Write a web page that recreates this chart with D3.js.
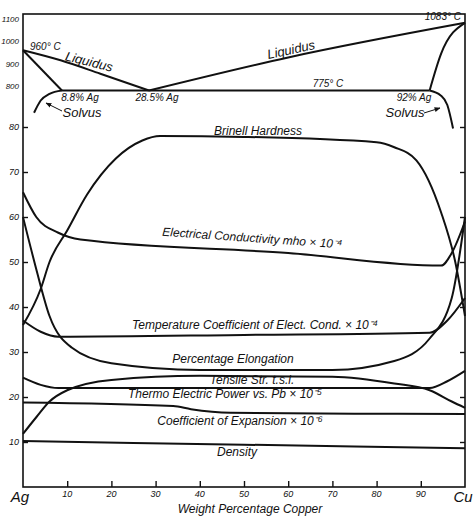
<!DOCTYPE html>
<html><head><meta charset="utf-8">
<script src="https://cdn.jsdelivr.net/npm/d3@7"></script>
<style>
body{margin:0;background:#fff}
text{font-family:"Liberation Sans",Arial,sans-serif;font-style:italic;fill:#111}
</style></head><body>
<svg id="chart" width="474" height="520"></svg>
<script>
// upper phase diagram (temperature, deg C)
const liquidusL = [[0,960],[8.5,915],[17.5,855],[28.5,780]];
const liquidusR = [[28.5,780],[60,928],[100,1083]];
const solidusL = [[0,960],[8.8,780]];
const solidusR = [[92,780],[94.6,945],[100,1083]];
const eutectic = [[8.8,780],[92,780]];
const solvusL = [[2.5,680],[4,735],[6,765],[8.8,780]];
const solvusR = [[92,780],[94.5,758],[96,715],[97.3,610]];

// lower property curves
const brinell = [[0,36],[4,44],[6,50],[10,57],[14.5,65],[21,73],[27,77],[31,78],[50,77.8],[80,76.6],[84,75.5],[89,72.6],[94.6,61],[97.8,50],[100,38]];
const conductivity = [[0,65.5],[3,60],[8,56.5],[13,55],[60,52],[94.6,49.2],[97,52],[100,59]];
const elongation = [[0,60],[2.9,48.8],[6,38],[11,31],[20,27.5],[40,26],[70,26],[84,28],[92,33],[97,42],[100,60]];
const tempCoef = [[0,37],[4,34.5],[8,33.4],[50,33.8],[92,34.3],[96,37],[100,42]];
const tensile = [[0,24.3],[4,22.7],[8,22],[50,22],[92,22],[96,23.5],[100,25.8]];
const thermo = [[0,11.8],[3,15.5],[6,19],[10,21.5],[20,23.8],[40,24.7],[70,24.5],[84,23],[92,21.5],[97,19],[100,17.6]];
const expansion = [[0,18.8],[34,18],[38,17.3],[47,16.5],[75,16.3],[100,16.2]];
const density = [[0,10.2],[50,9.4],[100,8.6]];

const tempTicks = [800,900,1000,1100];
const propTicks = [10,20,30,40,50,60,70,80];
const xTicks = [10,20,30,40,50,60,70,80,90];

const svg = d3.select("#chart");
const x = d3.scaleLinear().domain([0,100]).range([23,465]);
const yT = d3.scaleLinear().domain([800,1100]).range([86,19]);
const yP = d3.scaleLinear().domain([0,80]).range([487,127]);

const frameTop = 14, frameBottom = 487;
svg.append("rect").attr("x",x(0)).attr("y",frameTop).attr("width",x(100)-x(0)).attr("height",frameBottom-frameTop)
  .attr("fill","none").attr("stroke","#111").attr("stroke-width",1.6);

const lineT = d3.line().x(d=>x(d[0])).y(d=>yT(d[1])).curve(d3.curveMonotoneX);
const lineP = d3.line().x(d=>x(d[0])).y(d=>yP(d[1])).curve(d3.curveMonotoneX);

[liquidusL, liquidusR, solidusL, solidusR, eutectic, solvusL, solvusR].forEach(d=>{
  svg.append("path").attr("d",lineT(d)).attr("fill","none").attr("stroke","#111").attr("stroke-width",2);
});
[brinell, conductivity, elongation, tempCoef, tensile, thermo, expansion, density].forEach(d=>{
  svg.append("path").attr("d",lineP(d)).attr("fill","none").attr("stroke","#111").attr("stroke-width",2);
});

// axes
svg.append("g").attr("transform",`translate(0,${frameBottom})`)
  .call(d3.axisTop(x).tickValues(xTicks).tickSize(6).tickFormat(""))
  .call(g=>g.select(".domain").remove());
xTicks.forEach(t=>svg.append("text").attr("x",x(t)).attr("y",497).attr("text-anchor","middle")
  .attr("font-size",9).text(t));
svg.append("g").attr("transform",`translate(${x(0)},0)`)
  .call(d3.axisRight(yP).tickValues(propTicks).tickSize(5).tickFormat(""))
  .call(g=>g.select(".domain").remove());
svg.append("g").attr("transform",`translate(${x(100)},0)`)
  .call(d3.axisLeft(yP).tickValues(propTicks).tickSize(5).tickFormat(""))
  .call(g=>g.select(".domain").remove());
propTicks.forEach(t=>svg.append("text").attr("x",x(0)-4).attr("y",yP(t)+3).attr("text-anchor","end")
  .attr("font-size",9).text(t));
tempTicks.forEach(t=>svg.append("text").attr("x",x(0)-4).attr("y",yT(t)+3).attr("text-anchor","end")
  .attr("font-size",8).text(t));
svg.selectAll(".tick line").attr("stroke","#111").attr("stroke-width",1.4);

svg.append("text").attr("x",20).attr("y",502).attr("text-anchor","middle").attr("font-size",15).text("Ag");
svg.append("text").attr("x",463).attr("y",502).attr("text-anchor","middle").attr("font-size",15).text("Cu");
svg.append("text").attr("x",250).attr("y",513).attr("text-anchor","middle").attr("font-size",12).text("Weight Percentage Copper");

// labels
const label = (t,cx,cy,size,rot=0,anchor="middle")=>
  svg.append("text").attr("transform",`translate(${cx},${cy}) rotate(${rot})`)
    .attr("text-anchor",anchor).attr("font-size",size).text(t);
label("960° C",30,50,10,0,"start");
label("Liquidus",88,66,13,14);
label("Liquidus",292,54,13,-12);
label("775° C",328,87,10);
label("1083° C",461,20,10,0,"end");
label("8.8% Ag",80,101,10);
label("28.5% Ag",157,101,10);
label("92% Ag",414,101,10);
label("Solvus",82,117,13);
label("Solvus",405,117,13);
label("Brinell Hardness",258,135,12);
label("Electrical Conductivity mho × 10⁻⁴",252,242,12,4);
label("Temperature Coefficient of Elect. Cond. × 10⁻⁴",255,329,12);
label("Percentage Elongation",233,363,12);
label("Tensile Str. t.s.i.",252,384,12);
label("Thermo Electric Power vs. Pb × 10⁻⁵",225,398,12);
label("Coefficient of Expansion × 10⁻⁶",240,425,12);
label("Density",237,456,12);

// solvus arrows
svg.append("defs").append("marker").attr("id","ah").attr("viewBox","0 0 10 10").attr("refX",9).attr("refY",5)
  .attr("markerWidth",6).attr("markerHeight",6).attr("orient","auto")
  .append("path").attr("d","M0,1L10,5L0,9z").attr("fill","#111");
svg.append("line").attr("x1",62).attr("y1",111).attr("x2",46).attr("y2",103)
  .attr("stroke","#111").attr("marker-end","url(#ah)");
svg.append("line").attr("x1",424).attr("y1",113).attr("x2",440).attr("y2",108)
  .attr("stroke","#111").attr("marker-end","url(#ah)");
</script>
</body></html>
